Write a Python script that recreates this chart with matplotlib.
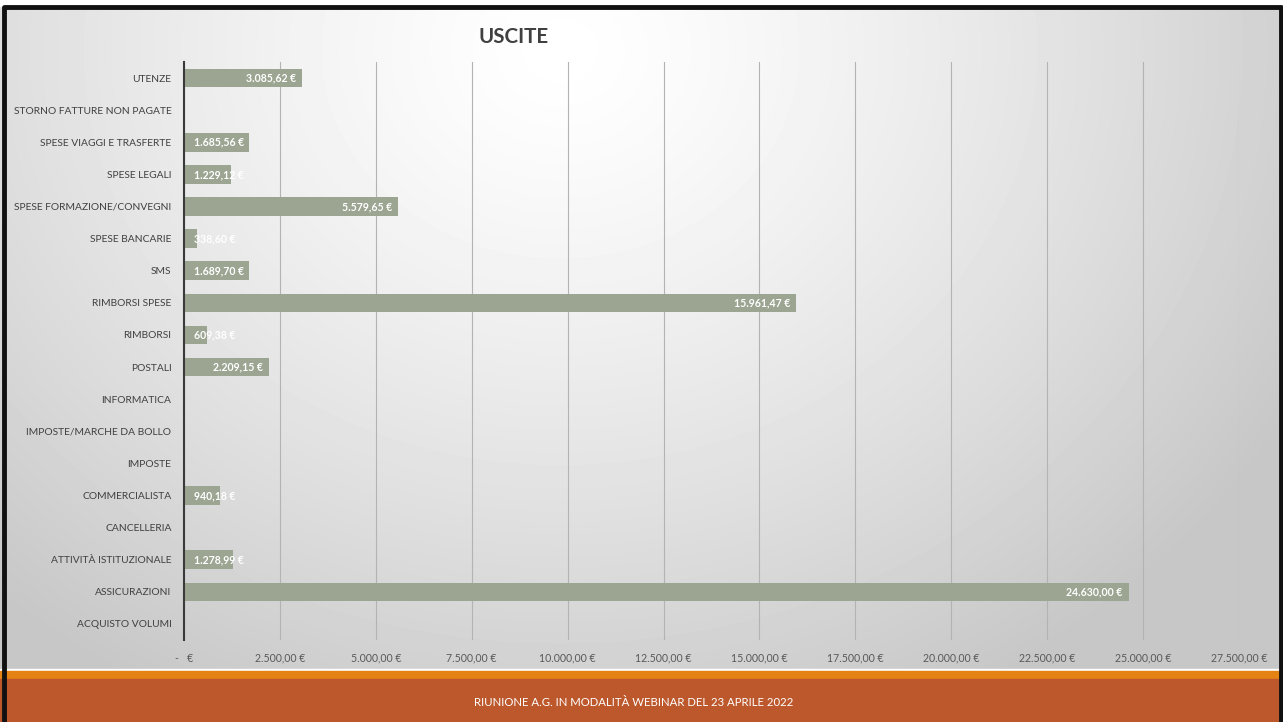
from matplotlib import pyplot as plt
from matplotlib.patches import Rectangle
import numpy as np

plt.rcParams['font.family'] = ['Lato', 'DejaVu Sans']

categorie = [
    "ACQUISTO VOLUMI", "ASSICURAZIONI", "ATTIVITÀ ISTITUZIONALE", "CANCELLERIA",
    "COMMERCIALISTA", "IMPOSTE", "IMPOSTE/MARCHE DA BOLLO", "INFORMATICA",
    "POSTALI", "RIMBORSI", "RIMBORSI SPESE", "SMS", "SPESE BANCARIE",
    "SPESE FORMAZIONE/CONVEGNI", "SPESE LEGALI", "SPESE VIAGGI E TRASFERTE",
    "STORNO FATTURE NON PAGATE", "UTENZE",
]
importi = [0, 24630.00, 1278.99, 0, 940.18, 0, 0, 0, 2209.15, 609.38,
           15961.47, 1689.70, 338.60, 5579.65, 1229.12, 1685.56, 0, 3085.62]
tick_x = [0, 2500, 5000, 7500, 10000, 12500, 15000, 17500, 20000, 22500, 25000, 27500]

titolo = "USCITE"
piede = "RIUNIONE A.G. IN MODALITÀ WEBINAR DEL 23 APRILE 2022"


def euro(v):
    if v == 0:
        return "-   €"
    s = f"{v:,.2f}".replace(",", "X").replace(".", ",").replace("X", ".")
    return s + " €"


W, H = 1283, 722
fig = plt.figure(figsize=(W / 100, H / 100), dpi=100)

# sfondo sfumato
bg = fig.add_axes([0, 0, 1, 1], zorder=-2)
yy, xx = np.mgrid[0:H, 0:W]
d = np.sqrt((xx - 560) ** 2 + ((yy - 50) * 1.15) ** 2)
v = np.clip(1.0 - 0.2 * (d / 780) ** 1.3, 0.78, 1.0)
bg.imshow(v, cmap="gray", vmin=0, vmax=1, extent=[0, W, H, 0], aspect="auto")
bg.set_xlim(0, W)
bg.set_ylim(H, 0)
bg.axis("off")

# fasce in basso e cornice
bg.add_patch(Rectangle((0, 669), W, 2, color="white", zorder=3))
bg.add_patch(Rectangle((0, 671), W, 8, color="#e48214", zorder=3))
bg.add_patch(Rectangle((0, 679), W, 43, color="#bc582c", zorder=3))
bg.add_patch(Rectangle((0, 0), W, 6, color="white", zorder=3))
bg.plot([4, 4, 1281, 1281], [H, 6.5, 6.5, H], color="#111111", lw=3.5, zorder=4)
bg.text(634, 703, piede, color="white", fontsize=8.2, ha="center", va="center", zorder=5)

ax = fig.add_axes([184 / W, 1 - 640 / H, (1239 - 184) / W, (640 - 62) / H])
ax.set_facecolor("none")
y = np.arange(len(categorie))
ax.barh(y, importi, height=0.58, color="#9ba591", zorder=2)

for yi, val in zip(y, importi):
    if val == 0:
        continue
    if val < 2000:
        ax.text(250, yi, euro(val), color="white", fontsize=7.6, fontweight="bold",
                ha="left", va="center", zorder=3)
    else:
        ax.text(val - 160, yi, euro(val), color="white", fontsize=7.6, fontweight="bold",
                ha="right", va="center", zorder=3)

ax.set_xlim(0, 27500)
ax.set_ylim(-0.5, len(categorie) - 0.5)
ax.set_xticks(tick_x)
ax.set_xticklabels([euro(t) for t in tick_x])
ax.set_yticks(y)
ax.set_yticklabels(categorie)
ax.tick_params(axis="x", length=0, pad=9, labelsize=7.6, labelcolor="#595959")
ax.tick_params(axis="y", length=0, pad=9, labelsize=7.4, labelcolor="#404040")
ax.grid(axis="x", color="#b3b3b3", lw=0.8, zorder=0)
for s in ["top", "right", "bottom"]:
    ax.spines[s].set_visible(False)
ax.spines["left"].set_color("#3a3a3a")
ax.spines["left"].set_linewidth(1.5)
ax.spines["left"].set_zorder(4)

fig.text(478 / W, 1 - 37 / H, titolo, fontsize=14.8, fontweight="bold", color="#404040",
         ha="left", va="center")

fig.savefig("out.png", dpi=100)
